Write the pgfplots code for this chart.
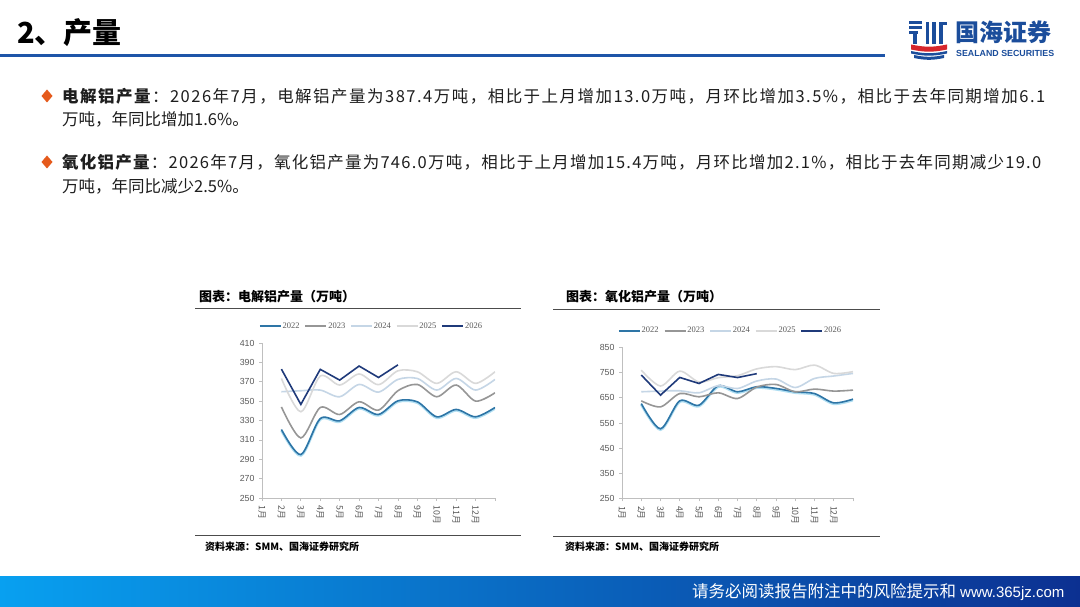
\documentclass[border=0pt]{standalone}
\usepackage{fontspec}
\setmainfont{Liberation Sans}
\newfontfamily\cjk{Noto Sans CJK SC}
\newfontfamily\cjkls{Noto Sans CJK SC}[LetterSpace=9]
\newfontfamily\cjklsb{Noto Sans CJK SC}[LetterSpace=7.6]
\newfontfamily\serifnum{Liberation Serif}
\usepackage{graphicx}
\usepackage{pgfplots}
\pgfplotsset{compat=1.18}

\definecolor{c22}{RGB}{46,117,166}
\definecolor{c22glow}{RGB}{175,222,242}
\definecolor{c23}{RGB}{150,150,150}
\definecolor{c24}{RGB}{197,214,230}
\definecolor{c25}{RGB}{217,217,217}
\definecolor{c26}{RGB}{31,58,122}
\definecolor{axisgray}{RGB}{191,191,191}
\definecolor{ticktext}{RGB}{89,89,89}
\definecolor{rulecol}{RGB}{30,85,168}
\definecolor{logoblue}{RGB}{27,77,155}
\definecolor{logored}{RGB}{214,38,44}
\definecolor{bulletc}{RGB}{229,90,28}
\definecolor{bodytext}{RGB}{30,30,30}
\definecolor{barleft}{RGB}{8,160,240}
\definecolor{barmid}{RGB}{4,102,212}
\definecolor{barright}{RGB}{12,48,145}

\pgfplotsset{
  slideaxis/.style={
    scale only axis, anchor=south west,
    xmin=0, xmax=12,
    xtick={0,...,12},
    xticklabels={1月,2月,3月,4月,5月,6月,7月,8月,9月,10月,11月,12月,{}},
    axis x line=bottom, axis y line=left,
    axis line style={draw=axisgray, line width=0.7bp, -},
    tick align=outside, major tick length=3bp,
    tick style={draw=axisgray, line width=0.7bp},
    /pgf/number format/assume math mode=true,
    yticklabel style={font=\fontsize{8.8bp}{10bp}\selectfont, text=ticktext, xshift=-1bp},
    xticklabel style={font=\cjk\fontsize{8.8bp}{10bp}\selectfont, text=ticktext, rotate=-90, anchor=west, xshift=1bp},
    legend columns=-1,
    legend style={at={(0.468,1)}, anchor=south, yshift=12bp, draw=none, fill=none,
      font=\serifnum\fontsize{8.5bp}{10bp}\selectfont, text=ticktext,
      inner sep=0pt, nodes={inner sep=1bp},
      /tikz/every even column/.append style={column sep=4bp}},
    legend image code/.code={\draw[##1] (0bp,0bp) -- (21bp,0bp);},
  }
}

\begin{document}
\begin{tikzpicture}[x=1bp,y=1bp]
\fill[white] (0,0) rectangle (1080,607);

% header
\node[anchor=base west, inner sep=0pt, text=black, font=\cjk\bfseries\fontsize{29bp}{32bp}\selectfont] at (17,{607-44}) {2、产量};
\fill[rulecol] (0,{607-57.5}) rectangle (885,{607-54.5});

% logo
\fill[logoblue] (909,{607-21.5}) rectangle (922,{607-24.5});
\fill[logoblue] (909,{607-26.5}) rectangle (922,{607-29.5});
\fill[logoblue] (909,{607-31.5}) rectangle (918,{607-34.5});
\fill[logoblue] (913,{607-34.5}) rectangle (917,{607-44});
\fill[logoblue] (925.5,{607-22}) rectangle (929,{607-44});
\fill[logoblue] (932,{607-22}) rectangle (935.5,{607-44});
\fill[logoblue] (939,{607-22}) rectangle (943,{607-44});
\fill[logoblue] (939,{607-22}) rectangle (947,{607-25});
\fill[logored] (911,{607-44.5}) to[out=-12,in=192] (947,{607-44.5}) -- (947,{607-49.5}) to[out=192,in=-12] (911,{607-49.5}) -- cycle;
\fill[logoblue] (911,{607-51}) to[out=-12,in=192] (947,{607-51}) -- (947,{607-53.5}) to[out=192,in=-12] (911,{607-53.5}) -- cycle;
\fill[logoblue] (914,{607-55}) to[out=-12,in=192] (944,{607-55}) -- (944,{607-58}) to[out=192,in=-12] (914,{607-58}) -- cycle;
\node[anchor=base west, inner sep=0pt, text=logoblue, font=\cjk\bfseries\fontsize{24bp}{26bp}\selectfont] at (955,{607-42}) {国海证券};
\node[anchor=base west, inner sep=0pt, text=logoblue] at (956,{607-56.5}) {\resizebox{98bp}{!}{\bfseries\fontsize{9bp}{10bp}\selectfont SEALAND SECURITIES}};

% bullets
\fill[bulletc] (47,{607-89.5}) -- (52.5,{607-96}) -- (47,{607-102.5}) -- (41.5,{607-96}) -- cycle;
\fill[bulletc] (47,{607-155.5}) -- (52.5,{607-162}) -- (47,{607-168.5}) -- (41.5,{607-162}) -- cycle;
\node[anchor=base west, inner sep=0pt, text=bodytext, font=\cjkls\fontsize{16.5bp}{20bp}\selectfont] at (62,{607-102.3}) {\textbf{电解铝产量}：2026年7月，电解铝产量为387.4万吨，相比于上月增加13.0万吨，月环比增加3.5\%，相比于去年同期增加6.1};
\node[anchor=base west, inner sep=0pt, text=bodytext, font=\cjk\fontsize{16.5bp}{20bp}\selectfont] at (62,{607-125.5}) {万吨，年同比增加1.6\%。};
\node[anchor=base west, inner sep=0pt, text=bodytext, font=\cjklsb\fontsize{16.5bp}{20bp}\selectfont] at (62,{607-168.3}) {\textbf{氧化铝产量}：2026年7月，氧化铝产量为746.0万吨，相比于上月增加15.4万吨，月环比增加2.1\%，相比于去年同期减少19.0};
\node[anchor=base west, inner sep=0pt, text=bodytext, font=\cjk\fontsize{16.5bp}{20bp}\selectfont] at (62,{607-192.3}) {万吨，年同比减少2.5\%。};

% chart frames
\node[anchor=base west, inner sep=0pt, text=black, font=\cjk\bfseries\fontsize{13bp}{15bp}\selectfont] at (199,{607-302}) {图表：电解铝产量（万吨）};
\draw[black!70, line width=0.8bp] (195,{607-308.5}) -- (521,{607-308.5});
\draw[black!70, line width=0.8bp] (195,{607-535}) -- (521,{607-535});
\node[anchor=base west, inner sep=0pt, text=black, font=\cjk\bfseries\fontsize{10bp}{12bp}\selectfont] at (205,{607-550.5}) {资料来源：SMM、国海证券研究所};

\node[anchor=base west, inner sep=0pt, text=black, font=\cjk\bfseries\fontsize{13bp}{15bp}\selectfont] at (566,{607-302}) {图表：氧化铝产量（万吨）};
\draw[black!70, line width=0.8bp] (553,{607-309}) -- (880,{607-309});
\draw[black!70, line width=0.8bp] (553,{607-536}) -- (880,{607-536});
\node[anchor=base west, inner sep=0pt, text=black, font=\cjk\bfseries\fontsize{10bp}{12bp}\selectfont] at (565,{607-550.5}) {资料来源：SMM、国海证券研究所};

% chart 1
\begin{axis}[slideaxis, at={(262bp,109bp)}, width=233bp, height=155bp,
  ymin=250, ymax=410, ytick={250,270,...,410}]
\addplot[c22glow, line width=2.6bp, smooth, forget plot, yshift=-0.9bp] coordinates {(1,320.7)(2,294.8)(3,332)(4,329.7)(5,343.4)(6,336.2)(7,350.3)(8,349.3)(9,333.8)(10,341.4)(11,333.8)(12,343.4)};
\addplot[c22, line width=1.6bp, smooth] coordinates {(1,320.7)(2,294.8)(3,332)(4,329.7)(5,343.4)(6,336.2)(7,350.3)(8,349.3)(9,333.8)(10,341.4)(11,333.8)(12,343.4)};
\addlegendentry{2022}
\addplot[c23, line width=1.6bp, smooth] coordinates {(1,344)(2,312)(3,343.4)(4,336.2)(5,349.3)(6,340.7)(7,360.7)(8,367.2)(9,354.5)(10,366.6)(11,350)(12,358.6)};
\addlegendentry{2023}
\addplot[c24, line width=1.6bp, smooth] coordinates {(1,359.7)(2,360.7)(3,361.4)(4,354.5)(5,367.2)(6,359.3)(7,372.4)(8,373.4)(9,361.4)(10,373.4)(11,361.4)(12,372.4)};
\addlegendentry{2024}
\addplot[c25, line width=1.6bp, smooth] coordinates {(1,373.4)(2,339)(3,375.9)(4,366.6)(5,378)(6,367)(7,381.3)(8,380.3)(9,368.3)(10,380.3)(11,368.3)(12,380.3)};
\addlegendentry{2025}
\addplot[c26, line width=1.6bp] coordinates {(1,383)(2,346.6)(3,382.8)(4,371.7)(5,386.2)(6,374.4)(7,387.4)};
\addlegendentry{2026}
\end{axis}

% chart 2
\begin{axis}[slideaxis, at={(622bp,108.5bp)}, width=231bp, height=151bp,
  ymin=250, ymax=850, ytick={250,350,...,850}]
\addplot[c22glow, line width=2.6bp, smooth, forget plot, yshift=-0.9bp] coordinates {(1,627)(2,527)(3,638)(4,620.7)(5,698)(6,674)(7,694)(8,687.3)(9,674)(10,667)(11,630)(12,644.7)};
\addplot[c22, line width=1.6bp, smooth] coordinates {(1,627)(2,527)(3,638)(4,620.7)(5,698)(6,674)(7,694)(8,687.3)(9,674)(10,667)(11,630)(12,644.7)};
\addlegendentry{2022}
\addplot[c23, line width=1.6bp, smooth] coordinates {(1,638)(2,614)(3,667)(4,654)(5,670)(6,647.3)(7,692.7)(8,703)(9,674)(10,684.7)(11,676.7)(12,680.7)};
\addlegendentry{2023}
\addplot[c24, line width=1.6bp, smooth] coordinates {(1,674)(2,676.7)(3,678)(4,670)(5,698)(6,687)(7,716.7)(8,724.7)(9,691)(10,727)(11,736.7)(12,747)};
\addlegendentry{2024}
\addplot[c25, line width=1.6bp, smooth] coordinates {(1,760)(2,697)(3,756)(4,713)(5,730)(6,738)(7,765)(8,774)(9,762)(10,780)(11,747)(12,754)};
\addlegendentry{2025}
\addplot[c26, line width=1.6bp] coordinates {(1,740.7)(2,660.7)(3,731)(4,707)(5,743)(6,730.6)(7,746)};
\addlegendentry{2026}
\end{axis}

% footer bar
\shade[left color=barleft, middle color=barmid, right color=barright] (0,0) rectangle (1080,{607-577});
\node[anchor=base west, inner sep=0pt, text=white, font=\cjk\fontsize{16.5bp}{20bp}\selectfont] at (692,{607-598}) {请务必阅读报告附注中的风险提示和};
\node[anchor=base west, inner sep=0pt, text=white, font=\fontsize{15bp}{18bp}\selectfont] at (960,{607-597.5}) {www.365jz.com};
\end{tikzpicture}
\end{document}
